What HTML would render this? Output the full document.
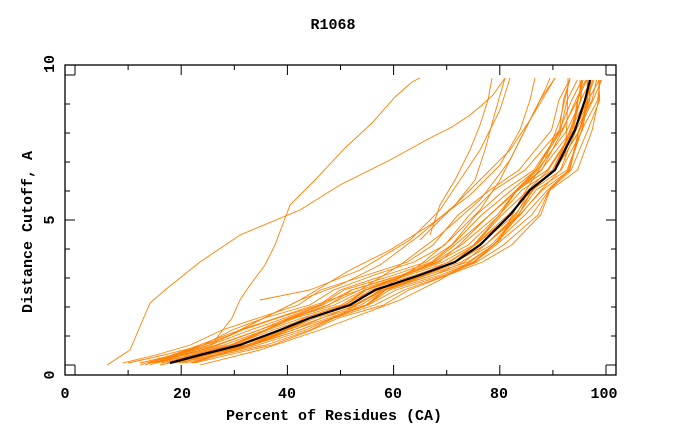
<!DOCTYPE html>
<html><head><style>
body{margin:0;background:#fff}
svg text{font-family:"Liberation Mono",monospace;font-weight:bold;font-size:15px;fill:#000}
</style></head><body>
<svg id="s" width="680" height="440" xmlns="http://www.w3.org/2000/svg">
<rect x="65" y="65" width="551" height="310" fill="none" stroke="#000" stroke-width="1.3"/>
<g id="ticks" stroke="#000" stroke-width="1"></g>
<g id="lines" fill="none" stroke="#ff8000" stroke-width="0.9"></g>
<polyline id="med" fill="none" stroke="#000" stroke-width="2.2"/>
<text x="333" y="29" text-anchor="middle">R1068</text>
<text x="65" y="398" text-anchor="middle">0</text>
<text x="182" y="398" text-anchor="middle">20</text>
<text x="287" y="398" text-anchor="middle">40</text>
<text x="393" y="398" text-anchor="middle">60</text>
<text x="499" y="398" text-anchor="middle">80</text>
<text x="604" y="398" text-anchor="middle">100</text>
<text x="334" y="420" text-anchor="middle">Percent of Residues (CA)</text>
<text transform="translate(54,375) rotate(-90)" text-anchor="middle">0</text>
<text transform="translate(54,220) rotate(-90)" text-anchor="middle">5</text>
<text transform="translate(54,64) rotate(-90)" text-anchor="middle">10</text>
<text transform="translate(32,232) rotate(-90)" text-anchor="middle">Distance Cutoff, A</text>
</svg>
<script>
function px(x){return 75+5.31*x} function py(y){return 365-29*y}
var t=document.getElementById("ticks"),h="";
for(var i=0;i<=10;i++){var X=px(i*10),L=(i%2==0)?10:5;
h+='<line x1="'+X+'" y1="375" x2="'+X+'" y2="'+(375-L)+'"/><line x1="'+X+'" y1="65" x2="'+X+'" y2="'+(65+L)+'"/>';
var Y=py(i);L=(i%5==0)?10:5;
h+='<line x1="65" y1="'+Y+'" x2="'+(65+L)+'" y2="'+Y+'"/><line x1="616" y1="'+Y+'" x2="'+(616-L)+'" y2="'+Y+'"/>';}
t.innerHTML=h;
var M=[[170,363],[200,355],[240,345],[280,330],[310,318],[350,305],[375,290],[420,275],[455,262],[480,245],[510,215],[530,190],[555,170],[575,130],[585,100],[590,80]];
function sp(y){ if(y>330)return 30; if(y>290)return 34; if(y>245)return 32; if(y>190)return 30; if(y>130)return 25; return 14;}
var g=document.getElementById("lines"),o="";
var ks=[-1,-0.85,-0.7,-0.55,-0.45,-0.35,-0.25,-0.15,-0.05,0.05,0.15,0.25,0.35,0.45,0.55,0.65,0.8,0.95,-1.3,-1.6,-0.6,0.3,-0.1,0.1];
ks.forEach(function(k,j){var pts=M.map(function(p,i){var w=Math.sin(i*1.7+j)*4;return (p[0]+k*sp(p[1])+w).toFixed(1)+","+p[1]});o+='<polyline points="'+pts.join(" ")+'"/>';});
var extra=[
"107,365 130,350 150,303 165,290 200,262 240,235 300,210 340,185 390,160 430,138 452,127 470,115 482,105 493,95 505,78",
"215,340 232,318 240,300 250,285 265,265 275,245 290,205 315,180 345,148 372,123 395,97 412,82 420,78",
"150,365 230,335 300,300 340,285 380,265 420,235 455,205 475,180 485,150 493,120 500,95 505,78",
"140,365 220,340 260,320 300,300 350,270 390,250 430,225 470,195 500,165 520,130 530,100 535,78",
"145,365 240,330 300,310 360,290 400,265 440,235 480,200 510,160 530,120 545,90 550,78",
"160,365 250,345 300,330 340,315 380,290 420,265 450,240 480,210 500,180 520,140 540,100 555,78",
"200,365 260,350 320,330 360,315 400,300 440,280 470,262 500,240 520,200 545,160 560,120 570,78",
"430,235 440,205 455,180 470,150 480,125 488,100 492,78",
"260,300 310,290 360,270 410,240 440,210 460,180 480,150 500,110 510,78",
"420,240 450,210 480,180 510,150 530,120 545,95 555,78",
"565,160 567,120 568,78"];
extra.forEach(function(e){o+='<polyline points="'+e+'"/>';});
g.innerHTML=o;
document.getElementById("med").setAttribute("points",M.map(function(p){return p.join(",")}).join(" "));
</script>
</body></html>
